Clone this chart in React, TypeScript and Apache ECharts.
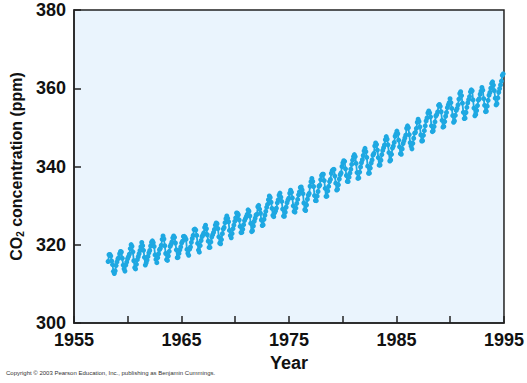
import React, { useEffect, useRef } from "react";
import * as echarts from "echarts";

// Monthly CO2 (ppm), Mauna Loa
const firstMonth1958 = 3; // data start in March 1958
const y1958 = [315.71, 317.45, 317.5, 317.1, 315.86, 314.93, 313.2, 312.66, 313.33, 314.67];
const y1959 = [315.62, 316.38, 316.71, 317.72, 318.29, 318.15, 316.54, 314.8, 313.84, 313.26, 314.8, 315.58];
const y1960 = [316.43, 316.97, 317.58, 319.02, 320.03, 319.59, 318.18, 315.91, 314.16, 313.83, 315.0, 316.19];
const y1961 = [316.93, 317.7, 318.54, 319.48, 320.58, 319.77, 318.57, 316.79, 314.8, 315.38, 316.1, 317.01];
const y1962 = [317.94, 318.56, 319.68, 320.63, 321.01, 320.55, 319.58, 317.4, 316.26, 315.42, 316.69, 317.69];
const y1963 = [318.74, 319.08, 319.86, 321.39, 322.25, 321.47, 319.74, 317.77, 316.21, 315.99, 317.12, 318.31];
const y1964 = [319.57, 320.07, 320.73, 321.77, 322.25, 321.89, 320.44, 318.7, 316.7, 316.79, 317.79, 318.71];
const y1965 = [319.44, 320.44, 320.89, 322.13, 322.16, 321.87, 321.39, 318.81, 317.81, 317.3, 318.87, 319.42];
const y1966 = [320.62, 321.59, 322.39, 323.87, 324.01, 323.75, 322.39, 320.37, 318.64, 318.1, 319.79, 321.08];
const y1967 = [322.07, 322.5, 323.04, 324.42, 325.0, 324.09, 322.55, 320.92, 319.31, 319.31, 320.72, 321.96];
const y1968 = [322.57, 323.15, 323.89, 325.02, 325.57, 325.36, 324.14, 322.03, 320.41, 320.25, 321.31, 322.84];
const y1969 = [324.0, 324.42, 325.64, 326.66, 327.34, 326.76, 325.88, 323.67, 322.38, 321.78, 322.85, 324.11];
const y1970 = [325.03, 325.99, 326.87, 328.13, 328.07, 327.66, 326.35, 324.69, 323.1, 323.16, 323.98, 325.13];
const y1971 = [326.17, 326.68, 327.18, 327.78, 328.92, 328.57, 327.34, 325.46, 323.36, 323.57, 324.8, 326.01];
const y1972 = [326.77, 327.63, 327.75, 329.72, 330.07, 329.09, 328.05, 326.32, 324.93, 325.06, 326.5, 327.55];
const y1973 = [328.54, 329.56, 330.3, 331.5, 332.48, 332.07, 330.87, 329.31, 327.51, 327.18, 328.16, 328.64];
const y1974 = [329.35, 330.71, 331.48, 332.65, 333.2, 332.16, 331.07, 329.12, 327.32, 327.28, 328.3, 329.58];
const y1975 = [330.73, 331.46, 331.9, 333.17, 333.94, 333.45, 331.97, 329.95, 328.5, 328.34, 329.37, 330.58];
const y1976 = [331.59, 332.75, 333.52, 334.64, 334.77, 334.0, 333.06, 330.68, 328.95, 328.75, 330.15, 331.62];
const y1977 = [332.66, 333.13, 334.95, 336.13, 336.93, 336.17, 334.88, 332.56, 331.29, 331.27, 332.41, 333.6];
const y1978 = [334.95, 335.25, 336.66, 337.69, 338.03, 338.01, 336.41, 334.41, 332.37, 332.41, 333.75, 334.9];
const y1979 = [336.14, 336.69, 338.27, 338.95, 339.21, 339.26, 337.54, 335.75, 333.98, 334.19, 335.31, 336.81];
const y1980 = [337.9, 338.34, 340.01, 340.93, 341.48, 341.33, 339.4, 337.7, 336.19, 336.15, 337.27, 338.32];
const y1981 = [339.29, 340.55, 341.61, 342.53, 343.03, 342.54, 340.78, 338.44, 336.95, 337.08, 338.58, 339.88];
const y1982 = [340.96, 341.73, 342.81, 343.97, 344.63, 343.79, 342.32, 340.09, 338.28, 338.29, 339.6, 340.9];
const y1983 = [341.68, 342.9, 343.33, 345.25, 346.03, 345.63, 344.19, 342.27, 340.35, 340.38, 341.59, 343.05];
const y1984 = [344.1, 344.79, 345.52, 346.84, 347.63, 346.98, 345.53, 343.55, 341.4, 341.67, 343.1, 344.7];
const y1985 = [345.21, 346.16, 347.74, 348.34, 349.06, 348.38, 346.72, 345.02, 343.27, 343.13, 344.49, 345.88];
const y1986 = [346.56, 347.28, 348.01, 349.77, 350.38, 349.93, 348.16, 346.08, 345.22, 344.51, 345.93, 347.22];
const y1987 = [348.52, 348.73, 349.73, 351.31, 352.09, 351.53, 350.11, 348.08, 346.52, 346.59, 347.96, 349.16];
const y1988 = [350.39, 351.64, 352.4, 353.69, 354.21, 353.72, 352.69, 350.4, 348.92, 349.13, 350.2, 351.41];
const y1989 = [352.91, 353.27, 353.96, 355.64, 355.86, 355.37, 353.99, 351.81, 350.05, 350.25, 351.49, 352.85];
const y1990 = [353.8, 355.04, 355.73, 356.32, 357.32, 356.34, 354.84, 353.01, 351.31, 351.62, 353.07, 354.33];
const y1991 = [354.84, 355.73, 357.23, 358.66, 359.13, 358.13, 356.19, 353.85, 352.25, 352.35, 353.81, 355.12];
const y1992 = [356.25, 357.11, 357.86, 359.09, 359.59, 359.33, 357.01, 354.94, 352.96, 353.32, 354.32, 355.57];
const y1993 = [357.0, 357.31, 358.47, 359.27, 360.19, 359.52, 357.33, 355.64, 354.03, 354.12, 355.41, 356.91];
const y1994 = [358.24, 358.92, 359.99, 361.23, 361.65, 360.81, 359.38, 357.46, 355.73, 356.07, 357.53, 358.98];
const y1995 = [359.92, 360.86, 361.83, 363.3, 363.69];

const yearlyValues = [
  y1958, y1959, y1960, y1961, y1962, y1963, y1964, y1965, y1966, y1967,
  y1968, y1969, y1970, y1971, y1972, y1973, y1974, y1975, y1976, y1977,
  y1978, y1979, y1980, y1981, y1982, y1983, y1984, y1985, y1986, y1987,
  y1988, y1989, y1990, y1991, y1992, y1993, y1994, y1995,
];
const firstYear = 1958;

const yTicks = [300, 320, 340, 360, 380];
const xLabels = [1955, 1965, 1975, 1985, 1995];

function buildPoints(): [number, number][] {
  const pts: [number, number][] = [];
  yearlyValues.forEach((vals, yi) => {
    const year = firstYear + yi;
    const startMonth = yi === 0 ? firstMonth1958 : 1;
    vals.forEach((v, mi) => {
      const month = startMonth + mi;
      pts.push([year + (month - 0.5) / 12, v]);
    });
  });
  return pts;
}

export default function App() {
  const ref = useRef<HTMLDivElement>(null);
  useEffect(() => {
    if (!ref.current) return;
    const chart = echarts.init(ref.current, null, { renderer: "svg" });
    const font = "'Liberation Sans', Arial, Helvetica, sans-serif";
    chart.setOption({
      animation: false,
      backgroundColor: "#ffffff",
      grid: {
        left: 74,
        right: 20,
        top: 10,
        bottom: 60,
        show: true,
        backgroundColor: "#eaf4fd",
        borderColor: "#222222",
        borderWidth: 1.5,
      },
      xAxis: [
        {
          type: "value",
          min: 1955,
          max: 1995,
          interval: 5,
          name: "Year",
          nameLocation: "middle",
          nameGap: 27,
          nameTextStyle: { fontFamily: font, fontWeight: "bold", fontSize: 18, color: "#111" },
          axisLine: { lineStyle: { color: "#222", width: 1.5 } },
          axisTick: { inside: true, length: 7, lineStyle: { color: "#222", width: 1.5 } },
          splitLine: { show: false },
          axisLabel: {
            fontFamily: font,
            fontWeight: "bold",
            fontSize: 18,
            color: "#111",
            margin: 8,
            formatter: (v: number) => (xLabels.includes(v) ? String(v) : ""),
          },
        },
        {
          // the figure's time scale is slightly compressed toward its right end
          type: "value",
          min: 1955,
          max: 1995.45,
          show: false,
          position: "bottom",
          splitLine: { show: false },
        },
      ],
      yAxis: {
        type: "value",
        min: 300,
        max: 380,
        interval: 20,
        name: "{a|CO}{s|2}{a| concentration (ppm)}",
        nameLocation: "middle",
        nameGap: 44,
        nameTextStyle: {
          rich: {
            a: { fontFamily: font, fontWeight: "bold", fontSize: 16, color: "#111" },
            s: { fontFamily: font, fontWeight: "bold", fontSize: 10, color: "#111", verticalAlign: "bottom", padding: [7, 0, 0, 0] },
          },
        },
        axisLine: { show: true, lineStyle: { color: "#222", width: 1.5 } },
        axisTick: { show: true, inside: true, length: 7, lineStyle: { color: "#222", width: 1.5 } },
        splitLine: { show: false },
        axisLabel: {
          fontFamily: font,
          fontWeight: "bold",
          fontSize: 18,
          color: "#111",
          margin: 8,
          formatter: (v: number) => (yTicks.includes(v) ? String(v) : ""),
        },
      },
      series: [
        {
          type: "line",
          xAxisIndex: 1,
          data: buildPoints(),
          showSymbol: true,
          symbol: "circle",
          symbolSize: 5,
          lineStyle: { color: "#1ea8e2", width: 1.8 },
          itemStyle: { color: "#1ea8e2" },
          clip: true,
        },
      ],
      graphic: [
        {
          type: "text",
          left: 6,
          top: 370,
          style: {
            text: "Copyright © 2003 Pearson Education, Inc., publishing as Benjamin Cummings.",
            fontFamily: font,
            fontSize: 6,
            fill: "#333",
          },
        },
      ],
    });
    return () => chart.dispose();
  }, []);
  return <div ref={ref} style={{ width: 527, height: 383, position: "absolute", left: 0, top: 0 }} />;
}
